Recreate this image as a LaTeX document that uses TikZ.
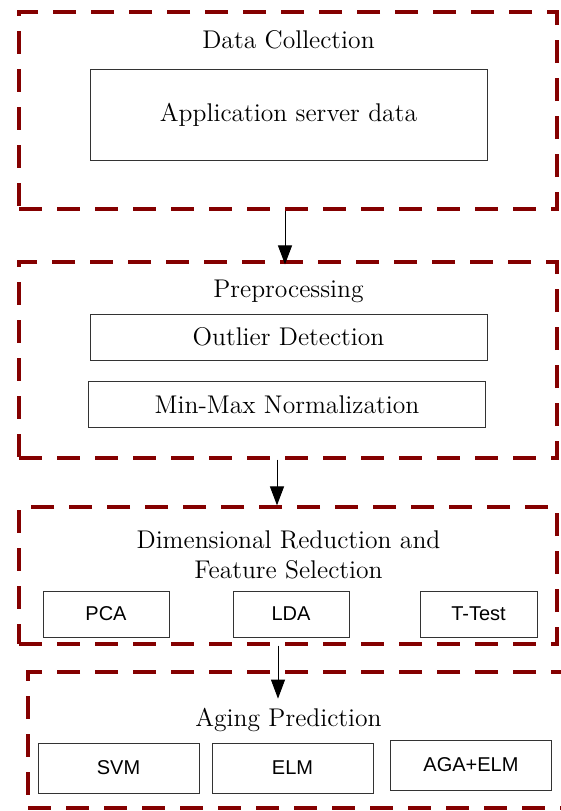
\documentclass[tikz,border=0pt]{standalone}
\usepackage{fontspec}
\usepackage{tikz}
\usetikzlibrary{positioning,arrows.meta}
\newfontfamily\arialfont{Liberation Sans}
\definecolor{stagered}{RGB}{132,0,0}

\begin{document}
\begin{tikzpicture}[x=0.5pt,y=-0.5pt,>={Triangle[length=9.5pt,width=7pt]},
                    font=\fontsize{12.8}{15}\selectfont]
  \tikzstyle{stage}=[draw=stagered,line width=1.6pt,dash pattern=on 11.5pt off 7.5pt,inner sep=0pt]
  \tikzstyle{proc}=[draw=black!80,line width=0.5pt,inner sep=0pt,minimum height=23pt]
  \tikzstyle{algo}=[proc,font=\arialfont\fontsize{10}{12}\selectfont]
  \tikzstyle{flow}=[->,line width=0.5pt]

  \useasboundingbox (0,0) rectangle (561,811);
  \clip (0,0) rectangle (561,811);

  \node[stage,minimum width=269pt,minimum height=98.5pt] (collect) at (288,110.5) {};
  \node[stage,minimum width=269pt,minimum height=98pt]   (prep)    at (288,360)   {};
  \node[stage,minimum width=269pt,minimum height=68.5pt] (reduce)  at (288,575.5) {};
  \node[stage,minimum width=273.5pt,minimum height=68pt] (aging)   at (301.5,740) {};

  \node (collectT) at (288.5,40)  {Data Collection};
  \node (prepT)    at (288.5,291) {Preprocessing};
  \node[align=center] (reduceT) at (288.5,555) {Dimensional Reduction and\\Feature Selection};
  \node (agingT)   at (288.5,720) {Aging Prediction};

  \node[proc,minimum width=198.5pt,minimum height=45.5pt] (app) at (288.5,114.5) {Application server data};
  \node[proc,minimum width=198.5pt] (outlier) at (288.5,337) {Outlier Detection};
  \node[proc,minimum width=198.5pt] (minmax)  at (287,404.5) {Min-Max Normalization};

  \node[algo,minimum width=63pt]   (pca)   at (106,614)   {PCA};
  \node[algo,minimum width=58pt]   (lda)   at (291,614)   {LDA};
  \node[algo,minimum width=58.5pt] (ttest) at (478.5,614) {T-Test};

  \node[algo,minimum width=80.5pt,minimum height=25pt] (svm)    at (118.5,768) {SVM};
  \node[algo,minimum width=80.5pt,minimum height=25pt] (elm)    at (292.5,768) {ELM};
  \node[algo,minimum width=80.5pt,minimum height=25pt] (agaelm) at (471,765)   {AGA+ELM};

  \draw[flow] ([xshift=-1.5pt]collect.south) -- ([xshift=-1.5pt,yshift=-2pt]prep.north);
  \draw[flow] ([xshift=-5.5pt]prep.south) -- ([xshift=-5.5pt]reduce.north);
  \draw[flow] ([xshift=-5pt]reduce.south) -- ++(0,53);
\end{tikzpicture}
\end{document}
